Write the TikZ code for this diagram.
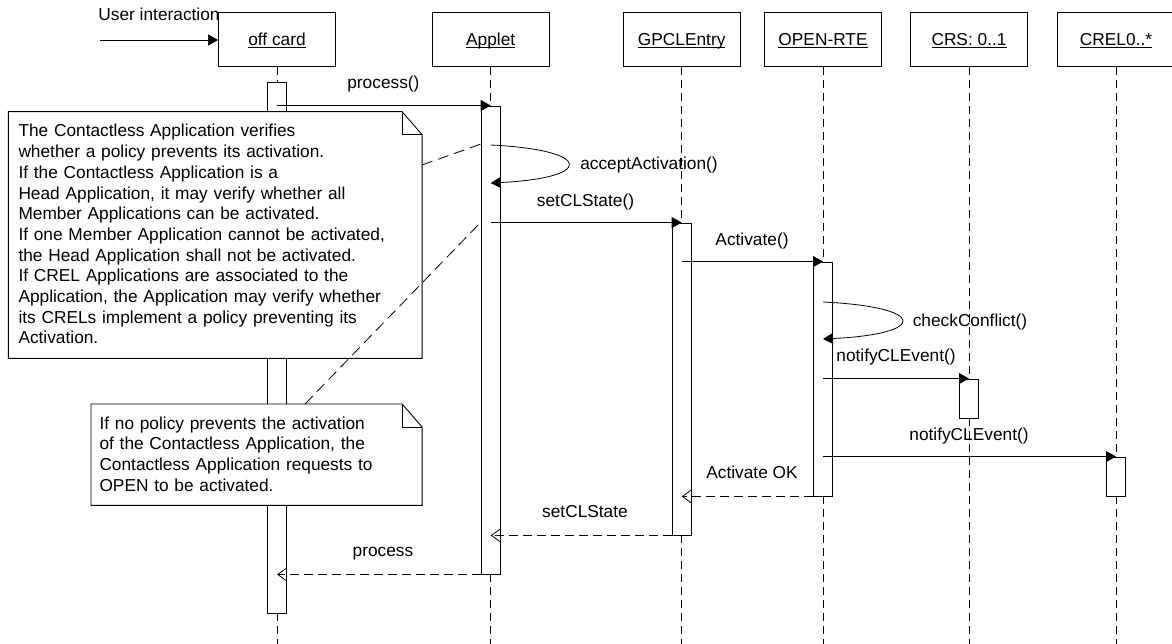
\documentclass[tikz,border=0pt]{standalone}
\usepackage{fontspec}
\setmainfont{Liberation Sans}
\usetikzlibrary{arrows.meta,calc}
\newcommand{\ulab}[1]{\setbox0\hbox{#1}\rlap{\rule[-2.5pt]{\wd0}{0.9pt}}\box0}
\begin{document}
\begin{tikzpicture}[x=1pt,y=-1pt,
  every node/.style={font=\fontsize{17.3}{20.7}\selectfont},
  head/.style={draw, line width=0.9pt, minimum width=117pt, minimum height=54pt, inner sep=0pt, text height=12pt, text depth=1pt, fill=white},
  lifeline/.style={line width=0.8pt, dash pattern=on 8pt off 5pt},
  actbar/.style={draw, line width=0.9pt, fill=white, minimum width=19.5pt, inner sep=0pt},
  msg/.style={line width=0.8pt, -{Triangle[length=10pt,width=11pt]}},
  ret/.style={line width=0.8pt, dash pattern=on 9pt off 5pt, -{Straight Barb[length=9pt,width=13pt]}},
  lbl/.style={anchor=base, inner sep=0pt},
  notebox/.style={inner sep=0pt, anchor=north west},
  noteshape/.style={draw, line width=0.9pt, fill=white},
  notefold/.style={draw, line width=0.9pt},
  notetext/.style={anchor=base west, inner sep=0pt, align=left},
  anchorline/.style={line width=0.8pt, dash pattern=on 11pt off 6pt}
]
\useasboundingbox (0,0) rectangle (1172,644);
\coordinate (bottom) at (0,644);

% heads
\node[head] (oc) at (277,39.6) {\ulab{off card}};
\node[head] (app) at (490.7,39.6) {\ulab{Applet}};
\node[head] (gpcl) at (681.7,39.6) {\ulab{GPCLEntry}};
\node[head] (rte) at (823,39.6) {\ulab{OPEN-RTE}};
\node[head] (crs) at (969,39.6) {\ulab{CRS: 0..1}};
\node[head] (crel) at (1116,39.6) {\ulab{CREL0..*}};

% lifelines
\foreach \h in {oc,app,gpcl,rte,crs,crel}
  \draw[lifeline] (\h.south) -- (\h.south |- bottom);

% activation bars
\node[actbar, minimum height=531pt] (ocbar) at (277,347.5) {};
\node[actbar, minimum height=468pt] (appbar) at (490.7,340) {};
\node[actbar, minimum height=312pt] (gpclbar) at (681.7,379) {};
\node[actbar, minimum height=234pt] (rtebar) at (823,379) {};
\node[actbar, minimum height=39pt] (crsbar) at (969,398.5) {};
\node[actbar, minimum height=39pt] (crelbar) at (1116,476.5) {};

% note 1
\node[notebox, minimum width=413.4pt, minimum height=246.3pt] (n1) at (8.3,111.7) {};
\path[noteshape] (n1.north west) -- ([xshift=-20pt]n1.north east) -- ([yshift=-23pt]n1.north east) -- (n1.south east) -- (n1.south west) -- cycle;
\path[notefold] ([xshift=-20pt]n1.north east) -- ([xshift=-20pt,yshift=-23pt]n1.north east) -- ([yshift=-23pt]n1.north east);
\node[notetext, text width=400pt] (n1t) at (18.3,137) {The Contactless Application verifies\\
whether a policy prevents its activation.\\
If the Contactless Application is a\\
Head Application, it may verify whether all\\
Member Applications can be activated.\\
If one Member Application cannot be activated,\\
the Head Application shall not be activated.\\
If CREL Applications are associated to the\\
Application, the Application may verify whether\\
its CRELs implement a policy preventing its\\
Activation.};

% note 2
\node[notebox, minimum width=330.7pt, minimum height=101pt] (n2) at (91,404) {};
\path[noteshape] (n2.north west) -- ([xshift=-20pt]n2.north east) -- ([yshift=-23pt]n2.north east) -- (n2.south east) -- (n2.south west) -- cycle;
\path[notefold] ([xshift=-20pt]n2.north east) -- ([xshift=-20pt,yshift=-23pt]n2.north east) -- ([yshift=-23pt]n2.north east);
\node[notetext, text width=310pt] (n2t) at (99.3,429) {If no policy prevents the activation\\
of the Contactless Application, the\\
Contactless Application requests to\\
OPEN to be activated.};

% note anchors
\coordinate (n1a) at (422,165);
\coordinate (appa) at (481,144);
\draw[anchorline] (n1a) -- (appa);
\coordinate (n2a) at (305,404);
\coordinate (appb) at (481,222);
\draw[anchorline] (n2a) -- (appb);

% user interaction
\coordinate (uistart) at (100,40);
\draw[msg] (uistart) -- (uistart -| oc.west);
\node[lbl] (uil) at (159,20.5) {User interaction};

% messages
\draw[msg] (appbar.north -| oc) -- (appbar.north);
\node[lbl] (l1) at (383.4,89) {process()};

\coordinate (aa1) at (490.7,145);
\coordinate (aa2) at (490.7,183);
\draw[msg] (aa1) .. controls (594,150) and (594,178) .. (aa2);
\node[lbl] (l2) at (649,170) {acceptActivation()};

\draw[msg] (gpclbar.north -| app) -- (gpclbar.north);
\node[lbl] (l3) at (585.5,206.5) {setCLState()};

\draw[msg] (rtebar.north -| gpcl) -- (rtebar.north);
\node[lbl] (l4) at (752,245.5) {Activate()};

\coordinate (cc1) at (823,302);
\coordinate (cc2) at (823,339);
\draw[msg] (cc1) .. controls (928,307) and (928,334) .. (cc2);
\node[lbl] (l5) at (970,326.7) {checkConflict()};

\draw[msg] (crsbar.north -| rte) -- (crsbar.north);
\node[lbl] (l6) at (896,361.7) {notifyCLEvent()};

\draw[msg] (crelbar.north -| rte) -- (crelbar.north);
\node[lbl] (l7) at (969,440) {notifyCLEvent()};

% returns
\draw[ret] (rtebar.south west) -- (rtebar.south west -| gpcl);
\node[lbl] (l8) at (752,478) {Activate OK};

\draw[ret] (gpclbar.south west) -- (gpclbar.south west -| app);
\node[lbl] (l9) at (585,517.7) {setCLState};

\draw[ret] (appbar.south west) -- (appbar.south west -| oc);
\node[lbl] (l10) at (383,556.7) {process};
\end{tikzpicture}
\end{document}
